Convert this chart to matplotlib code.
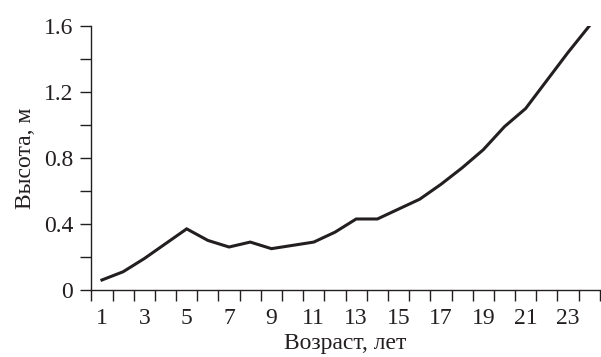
import matplotlib.pyplot as plt
from matplotlib.ticker import FixedLocator

AGE = list(range(1, 25))
HEIGHT = [0.06, 0.11, 0.19, 0.28, 0.37, 0.30, 0.26, 0.29, 0.25, 0.27,
          0.29, 0.35, 0.43, 0.43, 0.49, 0.55, 0.64, 0.74, 0.85, 0.99,
          1.10, 1.27, 1.44, 1.60]
X_LABELS = [str(a) for a in range(1, 24, 2)]
Y_TICKS = [0, 0.4, 0.8, 1.2, 1.6]
Y_LABELS = ["0", "0.4", "0.8", "1.2", "1.6"]

plt.rcParams['font.family'] = ['Liberation Serif', 'DejaVu Serif']
plt.rcParams['font.size'] = 17

fig = plt.figure(figsize=(6.01, 3.57), dpi=100)
ax = fig.add_axes([0.152, 0.188, 0.846, 0.739])
ink = '#231f20'

ax.plot(AGE, HEIGHT, color=ink, lw=2.2, solid_joinstyle='miter')

ax.set_xlim(0.5, 24.5)
ax.set_ylim(0, 1.6)

ax.xaxis.set_major_locator(FixedLocator(range(1, 24, 2)))
ax.set_xticklabels(X_LABELS)
ax.xaxis.set_minor_locator(FixedLocator([a + 0.5 for a in range(0, 25)]))
ax.tick_params(axis='x', which='major', length=0, pad=13, colors=ink)
ax.tick_params(axis='x', which='minor', length=8, width=1, color=ink)

ax.set_yticks(Y_TICKS)
ax.set_yticklabels(Y_LABELS)
ax.yaxis.set_minor_locator(FixedLocator([0.2, 0.6, 1.0, 1.4]))
ax.tick_params(axis='y', which='both', length=8, width=1, pad=5, colors=ink)

for s in ['top', 'right']:
    ax.spines[s].set_visible(False)
for s in ['left', 'bottom']:
    ax.spines[s].set_color(ink)
    ax.spines[s].set_linewidth(1)

ax.set_xlabel("Возраст, лет", color=ink, labelpad=3)
ax.set_ylabel("Высота, м", color=ink, labelpad=6)

fig.savefig("out.png", dpi=100)
